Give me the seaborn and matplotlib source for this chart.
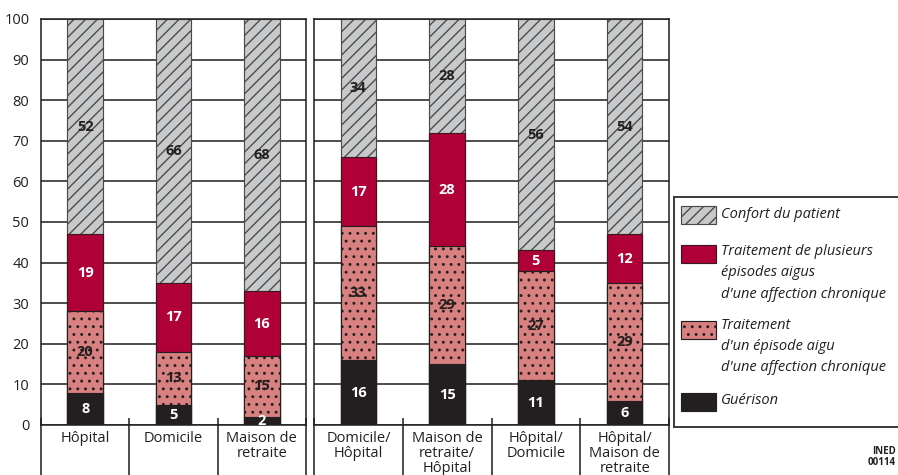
import matplotlib
matplotlib.use('Agg')
import matplotlib.pyplot as plt
import seaborn as sns
import pandas as pd
import numpy as np
from matplotlib.patches import Rectangle

# Data
left_cats = ['Hôpital', 'Domicile', 'Maison de\nretraite']
right_cats = ['Domicile/\nHôpital', 'Maison de\nretraite/\nHôpital',
              'Hôpital/\nDomicile', 'Hôpital/\nMaison de\nretraite']
guerison = [8, 5, 2, 16, 15, 11, 6]
un_episode = [20, 13, 15, 33, 29, 27, 29]
plusieurs = [19, 17, 16, 17, 28, 5, 12]
confort = [52, 66, 68, 34, 28, 56, 54]

legend_labels = ['Confort du patient',
                 'Traitement de plusieurs\népisodes aigus\nd\'une affection chronique',
                 'Traitement\nd\'un épisode aigu\nd\'une affection chronique',
                 'Guérison']

GREY = '#c8c9cb'
RED = '#b00038'
PINK = '#d98080'
BLACK = '#231f20'

sns.set_style('white')
plt.rcParams['font.family'] = ['Open Sans', 'DejaVu Sans']
plt.rcParams['hatch.linewidth'] = 0.7

df = pd.DataFrame({
    'cat': left_cats + right_cats,
    'panel': ['left'] * 3 + ['right'] * 4,
    'g': guerison, 'u': un_episode, 'p': plusieurs, 'c': confort,
})
df['cum1'] = df['g']
df['cum2'] = df['cum1'] + df['u']
df['cum3'] = df['cum2'] + df['p']
df['full'] = 100

fig = plt.figure(figsize=(898 / 140, 475 / 140), dpi=140)
ax_l = fig.add_axes([41 / 898, 50 / 475, 265 / 898, 406 / 475])
ax_r = fig.add_axes([314 / 898, 50 / 475, 355 / 898, 406 / 475])

FS = 7.5


def draw_panel(ax, sub, show_y):
    common = dict(data=sub, x='cat', width=0.4, saturation=1, errorbar=None, ax=ax, zorder=2)
    sns.barplot(y='full', color=GREY, hatch='////', edgecolor='#4a4a4a', linewidth=0.6, **common)
    sns.barplot(y='cum3', color=RED, edgecolor='#3a1a20', linewidth=0.6, **common)
    sns.barplot(y='cum2', color=PINK, hatch='...', edgecolor=BLACK, linewidth=0.6, **common)
    sns.barplot(y='cum1', color=BLACK, edgecolor=BLACK, linewidth=0.6, **common)

    # value labels
    for i, row in enumerate(sub.itertuples()):
        segs = [(0, row.cum1, row.g, 'white'),
                (row.cum1, row.cum2, row.u, BLACK),
                (row.cum2, row.cum3, row.p, 'white'),
                (row.cum3, 100, row.c, BLACK)]
        for lo, hi, v, col in segs:
            ax.text(i, (lo + hi) / 2, str(v), ha='center', va='center',
                    fontsize=FS, fontweight='bold', color=col, zorder=5)

    n = len(sub)
    ax.set_xlim(-0.5, n - 0.5)
    ax.set_ylim(0, 100)
    ax.set_yticks(range(0, 101, 10))
    ax.yaxis.grid(True, color=BLACK, linewidth=0.8, zorder=0)
    ax.set_axisbelow(True)
    ax.set_xlabel('')
    ax.set_ylabel('')
    ax.tick_params(axis='y', length=0, pad=6, labelsize=FS, labelcolor=BLACK, labelleft=show_y)
    ax.tick_params(axis='x', length=0, pad=3, labelsize=FS, labelcolor=BLACK)
    for lbl in ax.get_xticklabels():
        lbl.set_linespacing(1.0)
    for sp in ax.spines.values():
        sp.set_color(BLACK)
        sp.set_linewidth(0.8)
    # separators between categories below the axis
    ax.vlines(np.arange(-0.5, n), -0.2, 0.017, transform=ax.get_xaxis_transform(),
              clip_on=False, color=BLACK, linewidth=0.8)


draw_panel(ax_l, df[df['panel'] == 'left'].reset_index(drop=True), True)
draw_panel(ax_r, df[df['panel'] == 'right'].reset_index(drop=True), False)

# Legend box
ax_leg = fig.add_axes([674 / 898, 48 / 475, 240 / 898, 230 / 475])
ax_leg.set_xlim(674, 914)
ax_leg.set_ylim(427, 197)
ax_leg.set_xticks([])
ax_leg.set_yticks([])
for sp in ax_leg.spines.values():
    sp.set_color('#3a3a3a')
    sp.set_linewidth(1.0)

handles = [(GREY, '////', '#4a4a4a'), (RED, None, '#3a1a20'), (PINK, '...', BLACK), (BLACK, None, BLACK)]
box_tops = [206, 245, 321, 393]
text_centers = [215, 273, 346.5, 401]
for (fc, h, ec), top, tc, lab in zip(handles, box_tops, text_centers, legend_labels):
    ax_leg.add_patch(Rectangle((681, top), 35, 18, facecolor=fc, hatch=h,
                               edgecolor=ec, linewidth=0.6))
    ax_leg.text(721, tc, lab, ha='left', va='center', fontsize=FS,
                style='italic', color=BLACK, linespacing=1.55)

fig.text(896 / 898, 1 - 446 / 475, 'INED\n00114', ha='right', va='top', fontsize=5,
         fontweight='bold', color=BLACK, multialignment='right', linespacing=1.0)

fig.savefig('out.png', dpi=140)
